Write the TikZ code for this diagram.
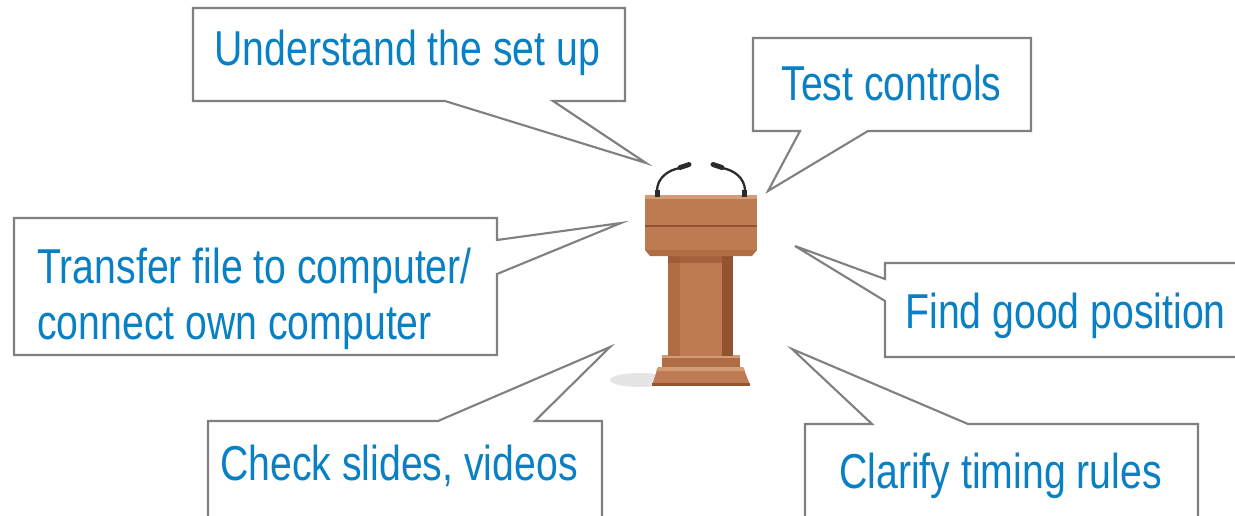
\documentclass[tikz,border=0pt]{standalone}
\usepackage{fontspec}
\usepackage{tikz}
\usetikzlibrary{arrows,positioning}
\newfontfamily\bubblefont{Liberation Sans}[FakeStretch=0.8]
\definecolor{bubbleblue}{HTML}{0A80C4}
\definecolor{bubblegray}{HTML}{808080}
\definecolor{woodlight}{HTML}{D49C76}
\definecolor{wood}{HTML}{BE7A52}
\definecolor{woodmid}{HTML}{B06C45}
\definecolor{wooddark}{HTML}{94532F}
\definecolor{micgray}{HTML}{2B2B2B}
\tikzstyle{bubble}=[draw=bubblegray, fill=white, line width=1.2pt, line join=miter]
\tikzstyle{bubble text}=[anchor=base west, inner sep=0pt, text=bubbleblue, font=\bubblefont\fontsize{27.9}{31.9}\selectfont]
\tikzstyle{mic}=[draw=micgray, line width=1.3pt, line cap=round]

\begin{document}
\begin{tikzpicture}[x=0.02cm, y=-0.02cm]
\useasboundingbox (0,0) rectangle (1235,515);
%
% podium: shadow, base, column, lectern top
\fill[black, opacity=0.10] (640,380) ellipse (30 and 7);
\fill[wood] (652,385) -- (658,367) -- (743,367) -- (750,385) -- cycle;
\fill[woodlight] (658,367) -- (743,367) -- (745,371) -- (656,371) -- cycle;
\fill[wooddark] (652,383) rectangle (750,386);
\fill[woodmid] (662,355) rectangle (740,367);
\fill[woodlight] (662,355) rectangle (740,358);
\fill[wood] (668,256) rectangle (733,356);
\fill[woodmid] (668,256) rectangle (680,356);
\fill[wooddark] (722,256) rectangle (733,356);
\fill[wooddark, opacity=0.6] (668,256) rectangle (733,263);
\fill[wood] (645,197) rectangle (757,250);
\fill[woodlight] (645,195) rectangle (757,199);
\fill[wooddark] (645,225) rectangle (757,227);
\fill[woodmid] (645,250) -- (757,250) -- (752,256) -- (650,256) -- cycle;
%
% microphones
\fill[micgray] (655,190) rectangle (660,197);
\fill[micgray] (742,190) rectangle (747,197);
\draw[mic] (657,191) .. controls (657,178) and (668,170) .. (680,168);
\draw[mic] (745,191) .. controls (745,178) and (734,170) .. (722,168);
\draw[mic, line width=2.8pt] (680,167.5) -- (689,164.5);
\draw[mic, line width=2.8pt] (722,167.5) -- (713,164.5);
%
% speech bubbles
\draw[bubble] (193,8) -- (625,8) -- (625,101) -- (553,101) -- (646,163) -- (445,101) -- (193,101) -- cycle;
\draw[bubble] (753,38) -- (1031,38) -- (1031,131) -- (868,131) -- (768,191) -- (800,131) -- (753,131) -- cycle;
\draw[bubble] (14,218) -- (497,218) -- (497,240) -- (621,223) -- (497,274) -- (497,355) -- (14,355) -- cycle;
\draw[bubble] (885,263) -- (1245,263) -- (1245,357) -- (885,357) -- (885,301) -- (795,246) -- (885,279) -- cycle;
\draw[bubble] (208,525) -- (208,421) -- (438,421) -- (610,347) -- (535,421) -- (602,421) -- (602,525);
\draw[bubble] (805,525) -- (805,424) -- (872,424) -- (792,349) -- (968,424) -- (1198,424) -- (1198,525);
%
\node[bubble text] (setup) at (214,65) {Understand the set up};
\node[bubble text] (controls) at (781,100) {Test controls};
\node[bubble text] (transfer) at (37,283) {Transfer file to computer/};
\node[bubble text] (connect) at (37,339) {connect own computer};
\node[bubble text] (position) at (905,328) {Find good position};
\node[bubble text] (slides) at (220,480) {Check slides, videos};
\node[bubble text] (timing) at (839,488) {Clarify timing rules};
%
\end{tikzpicture}
\end{document}
